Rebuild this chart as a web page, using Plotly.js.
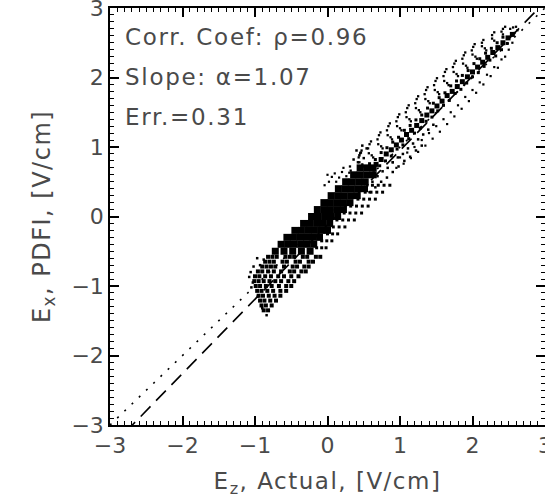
<!DOCTYPE html>
<html>
<head>
<meta charset="utf-8">
<script src="https://cdn.plot.ly/plotly-3.0.1.min.js"></script>
<style>
html,body{margin:0;padding:0;background:#fff}
.annotation-text{letter-spacing:1.7px}
.xtitle,.ytitle{letter-spacing:1.5px}
</style>
</head>
<body>
<div id="chart"></div>
<script>
// ---- reference lines ----
const identityX = [-3, 3];
const identityY = [-3, 3];
const fitX = [-3, 3];
const fitY = [-3.33, 3.09];

// ---- dense core (rows of constant y) ----
const coreRowsY = [0.7, 0.6, 0.5, 0.4, 0.3, 0.2, 0.1, 0.0, -0.1, -0.2, -0.3, -0.4, -0.5];
const coreRowsX = [
  [0.45, 0.54, 0.63],
  [0.36, 0.45, 0.54, 0.63],
  [0.25, 0.34, 0.43, 0.52],
  [0.15, 0.24, 0.33, 0.42, 0.51],
  [0.05, 0.14, 0.23, 0.32, 0.41],
  [-0.05, 0.04, 0.13, 0.22, 0.31],
  [-0.14, -0.05, 0.04, 0.13, 0.22],
  [-0.22, -0.13, -0.04, 0.05, 0.14],
  [-0.33, -0.24, -0.15, -0.06, 0.03],
  [-0.45, -0.36, -0.27, -0.18, -0.09, 0.0],
  [-0.56, -0.47, -0.38, -0.29, -0.2, -0.11],
  [-0.64, -0.55, -0.46, -0.37, -0.28, -0.19],
  [-0.72, -0.6, -0.48, -0.36, -0.24]
];

// ---- lower-left lobe ----
const lobeRowsY = [-0.58, -0.65, -0.72, -0.79, -0.86, -0.93, -1.0, -1.07, -1.14, -1.21, -1.28, -1.35];
const lobeRowsX = [
  [-0.82, -0.76, -0.7, -0.58, -0.52, -0.46, -0.34, -0.28, -0.16, -0.1],
  [-0.86, -0.8, -0.74, -0.62, -0.56, -0.44, -0.38, -0.26, -0.2],
  [-0.9, -0.84, -0.78, -0.72, -0.6, -0.48, -0.42, -0.32, -0.26],
  [-0.96, -0.9, -0.82, -0.74, -0.64, -0.52, -0.46, -0.36, -0.3],
  [-1.0, -0.94, -0.86, -0.78, -0.68, -0.6, -0.5, -0.4],
  [-1.01, -0.95, -0.88, -0.8, -0.72, -0.64, -0.54, -0.46],
  [-0.99, -0.93, -0.85, -0.77, -0.67, -0.57, -0.5],
  [-0.97, -0.91, -0.83, -0.75, -0.65, -0.57],
  [-0.95, -0.89, -0.81, -0.73, -0.65],
  [-0.93, -0.87, -0.79, -0.71],
  [-0.91, -0.85, -0.77],
  [-0.88, -0.82]
];
const lobeEdgeX = [-1.06, -1.03, -1.08, -0.96, -0.9, -0.84, -0.88, -0.93, -1.05, -0.97, -1.02];
const lobeEdgeY = [-0.8, -0.95, -0.87, -1.15, -1.32, -1.42, -0.62, -0.7, -1.02, -0.6, -0.72];

// ---- loopy region right of core ----
const loopRowsY = [0.45, 0.35, 0.25, 0.15, 0.05, -0.05, -0.15, -0.25, -0.35, -0.45];
const loopRowsX = [
  [0.62, 0.7, 0.78, 0.86],
  [0.52, 0.6, 0.68, 0.76],
  [0.42, 0.5, 0.58, 0.66],
  [0.32, 0.4, 0.48, 0.56],
  [0.23, 0.31, 0.39, 0.47],
  [0.13, 0.21, 0.29, 0.37],
  [0.08, 0.16, 0.24],
  [0.0, 0.07, 0.14],
  [-0.08, -0.01, 0.06],
  [-0.15, -0.08, -0.02]
];

// ---- band spine and its neighbours ----
const spineX = [0.6,0.67,0.74,0.81,0.88,0.95,1.02,1.09,1.16,1.23,1.3,1.37,1.44,1.51,1.58,1.65,1.72,1.79,1.86,1.93,2.0,2.07,2.14,2.21,2.28,2.35,2.42,2.49,2.55];
const spineY = [0.69,0.75,0.82,0.9,0.96,1.03,1.1,1.18,1.24,1.31,1.38,1.46,1.52,1.59,1.66,1.74,1.8,1.87,1.94,2.01,2.08,2.15,2.22,2.29,2.36,2.43,2.5,2.57,2.62];
const bandLowX = [0.64,0.72,0.8,0.88,0.96,1.04,1.12,1.2,1.28,1.36,1.44,1.52,1.6,1.68,1.76,1.84,1.92,2.0,2.08,2.16,2.24,2.32,2.4,2.48];
const bandLowY = [0.63,0.73,0.8,0.87,0.97,1.03,1.12,1.2,1.27,1.37,1.43,1.52,1.6,1.67,1.77,1.83,1.92,2.01,2.07,2.16,2.25,2.31,2.4,2.49];
const bandHighX = [0.58,0.66,0.74,0.82,0.9,0.98,1.06,1.14,1.22,1.3,1.38,1.46,1.54,1.62,1.7,1.78,1.86,1.94,2.02,2.1,2.18,2.26,2.34,2.42];
const bandHighY = [0.76,0.82,0.92,0.99,1.07,1.14,1.24,1.31,1.39,1.46,1.56,1.63,1.71,1.78,1.88,1.95,2.03,2.1,2.2,2.27,2.35,2.42,2.5,2.58];
const bandXsX = [0.55,0.62,0.69,0.76,0.83,0.9,0.97,1.04,1.11,1.18,1.25,1.32,1.39,1.46,0.58,0.66,0.74,0.82,0.9,0.98,1.06,1.14,1.22,1.3,0.42,0.5,0.46,0.54,0.36,0.44,0.4,0.48];
const bandXsY = [0.45,0.5,0.58,0.65,0.7,0.78,0.85,0.9,0.98,1.05,1.11,1.18,1.25,1.32,0.35,0.42,0.5,0.56,0.64,0.72,0.8,0.86,0.95,1.02,0.78,0.84,0.92,0.98,0.82,0.88,0.95,1.02];

// ---- comb arcs on the upper side ----
const combX = [0.36,0.32,0.31,0.48,0.44,0.43,0.45,0.61,0.57,0.56,0.58,0.74,0.7,0.69,0.71,0.87,0.83,0.82,0.84,1.0,0.96,0.95,0.97,1.13,1.09,1.08,1.1,1.26,1.22,1.21,1.23,1.39,1.35,1.34,1.36,1.52,1.48,1.47,1.49,1.65,1.61,1.6,1.62,1.78,1.74,1.73,1.75,1.91,1.87,1.86,1.88,2.04,2.0,1.99,2.01,2.17,2.13,2.13,2.15,2.3,2.27,2.27,2.3,2.42,2.4,2.42,2.45,2.52,2.56,2.6,2.62,2.58];
const combY = [0.62,0.66,0.72,0.75,0.78,0.85,0.91,0.88,0.91,0.98,1.04,1.01,1.04,1.11,1.17,1.14,1.17,1.24,1.3,1.27,1.3,1.37,1.43,1.4,1.43,1.5,1.56,1.53,1.56,1.63,1.69,1.66,1.69,1.76,1.82,1.79,1.82,1.89,1.95,1.92,1.95,2.02,2.08,2.05,2.08,2.15,2.2,2.17,2.2,2.27,2.32,2.3,2.33,2.39,2.44,2.42,2.45,2.5,2.54,2.53,2.56,2.61,2.65,2.62,2.66,2.7,2.73,2.7,2.72,2.73,2.68,2.64];
const combTipX = [0.5,0.63,0.76,0.89,1.02,1.15,1.28,1.41,1.54,1.67,1.8,1.93,2.06,2.19,0.47,0.6,0.73,0.86,0.99,1.12,1.25,1.38,1.51,1.64,1.77,1.9,2.03];
const combTipY = [0.72,0.85,0.98,1.11,1.24,1.37,1.5,1.63,1.76,1.89,2.02,2.14,2.27,2.39,0.95,1.08,1.21,1.34,1.47,1.6,1.73,1.86,1.99,2.12,2.24,2.36,2.48];

// ---- sparse lower side of band ----
const sparseX = [0.9,0.95,1.0,1.05,1.1,1.15,1.2,1.25,1.3,1.35,1.4,1.45,1.5,1.55,1.6,1.65,1.7,1.75,1.8,1.85,1.9,1.95,2.0,2.05,2.1,2.15,2.2,2.25,2.3,2.35,2.4,2.45,2.5,2.55];
const sparseY = [0.78,0.7,0.85,0.76,0.92,0.84,1.0,0.93,1.1,1.02,1.2,1.12,1.3,1.22,1.4,1.33,1.5,1.44,1.6,1.55,1.72,1.66,1.82,1.78,1.93,1.9,2.04,2.02,2.15,2.14,2.26,2.3,2.4,2.5];

// ---- isolated points above the core ----
const outlierX = [0.02,0.06,0.1,0.16,0.2,0.26,0.3,0.0,0.12,-0.04,0.22];
const outlierY = [0.5,0.57,0.62,0.56,0.64,0.58,0.63,0.6,0.5,0.45,0.7];

function flatten(rowsY, rowsX) {
  const xs = [], ys = [];
  rowsY.forEach((y, i) => rowsX[i].forEach(x => { xs.push(x); ys.push(y); }));
  return {x: xs, y: ys};
}
const core = flatten(coreRowsY, coreRowsX);
const lobe = flatten(lobeRowsY, lobeRowsX);
const loop = flatten(loopRowsY, loopRowsX);

function pts(x, y, size) {
  return {type: 'scatter', mode: 'markers', x: x, y: y, hoverinfo: 'skip', showlegend: false,
          marker: {color: '#000', size: size, symbol: 'square', line: {width: 0}}};
}

const traces = [
  // y = x line drawn on the overlay y-axis (same range) so that axis carries the tick marks
  {type: 'scatter', mode: 'lines', x: identityX, y: identityY, xaxis: 'x', yaxis: 'y2', showlegend: false, hoverinfo: 'skip',
   line: {color: '#000', width: 1.6, dash: '2px,8px'}},
  // fit line drawn on the overlay x-axis (same range)
  {type: 'scatter', mode: 'lines', x: fitX, y: fitY, xaxis: 'x2', yaxis: 'y', showlegend: false, hoverinfo: 'skip',
   line: {color: '#000', width: 1.6, dash: '14px,8px'}},
  pts(core.x, core.y, 7),
  pts(lobe.x, lobe.y, 4),
  pts(lobeEdgeX, lobeEdgeY, 2.5),
  pts(loop.x, loop.y, 3),
  pts(spineX, spineY, 5),
  pts(bandLowX, bandLowY, 3),
  pts(bandHighX, bandHighY, 3),
  pts(bandXsX, bandXsY, 2.5),
  pts(combX, combY, 2.3),
  pts(combTipX, combTipY, 2.3),
  pts(sparseX, sparseY, 2.2),
  pts(outlierX, outlierY, 2.2)
];

const fontFam = 'DejaVu Sans, sans-serif';
const txtCol = '#4a4a4a';

// label-carrying axes
function labelAxis(extra) {
  return Object.assign({
    range: [-3, 3], showgrid: false, zeroline: false, showline: true, linecolor: '#000', linewidth: 1.5,
    mirror: true, ticks: '', dtick: 1, ticklabeloverflow: 'allow',
    tickfont: {family: fontFam, size: 22, color: txtCol}
  }, extra);
}
// tick-carrying overlay axes (no labels, no title)
function tickAxis(extra) {
  return Object.assign({
    range: [-3, 3], showgrid: false, zeroline: false, showline: true, linecolor: '#000', linewidth: 1.5,
    mirror: 'ticks', ticks: 'inside', ticklen: 9, tickwidth: 1.5, tickcolor: '#000', dtick: 1,
    minor: {dtick: 0.1, ticks: 'inside', ticklen: 4, tickwidth: 1, tickcolor: '#000'},
    showticklabels: false
  }, extra);
}

const layout = {
  width: 545, height: 498,
  margin: {l: 110, r: 0, t: 8, b: 73},
  xaxis: labelAxis({
    title: {text: 'E<sub>z</sub>, Actual, [V/cm]', font: {family: fontFam, size: 23, color: txtCol}, standoff: 16}
  }),
  yaxis: labelAxis({
    title: {text: 'E<sub>x</sub>, PDFI, [V/cm]', font: {family: fontFam, size: 24, color: txtCol}, standoff: 14}
  }),
  xaxis2: tickAxis({overlaying: 'x', anchor: 'y', side: 'bottom'}),
  yaxis2: tickAxis({overlaying: 'y', anchor: 'x', side: 'left'}),
  annotations: [
    {xref: 'paper', yref: 'paper', x: 0.03, y: 0.93, xanchor: 'left', yanchor: 'middle', showarrow: false,
     text: 'Corr. Coef: ρ=0.96', font: {family: fontFam, size: 23, color: txtCol}},
    {xref: 'paper', yref: 'paper', x: 0.03, y: 0.835, xanchor: 'left', yanchor: 'middle', showarrow: false,
     text: 'Slope: α=1.07', font: {family: fontFam, size: 23, color: txtCol}},
    {xref: 'paper', yref: 'paper', x: 0.03, y: 0.738, xanchor: 'left', yanchor: 'middle', showarrow: false,
     text: 'Err.=0.31', font: {family: fontFam, size: 23, color: txtCol}}
  ]
};

Plotly.newPlot('chart', traces, layout, {displayModeBar: false});
</script>
</body>
</html>
